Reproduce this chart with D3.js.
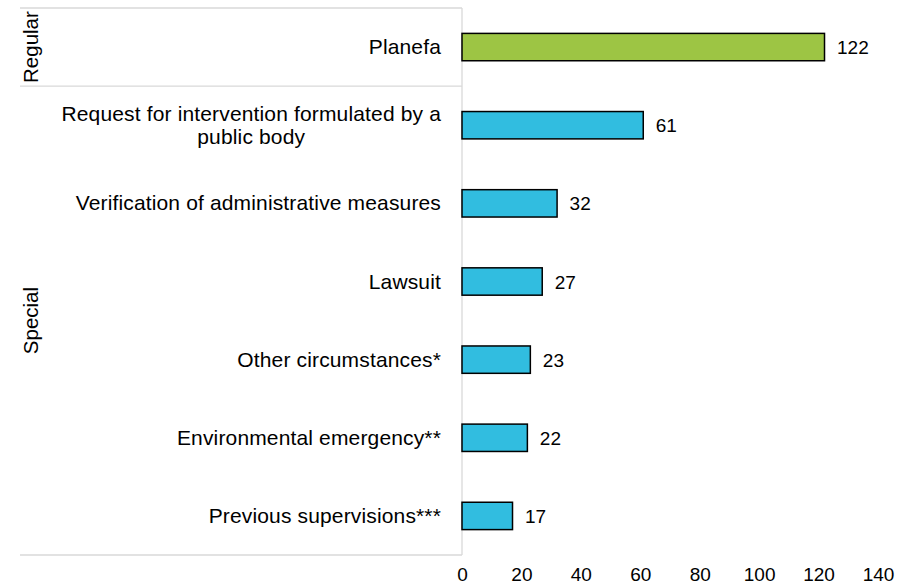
<!DOCTYPE html>
<html>
<head>
<meta charset="utf-8">
<script src="https://cdn.jsdelivr.net/npm/d3@7"></script>
<style>
  body { margin: 0; background: #fff; }
  text { font-family: "Liberation Sans", Arial, sans-serif; fill: #000; }
</style>
</head>
<body>
<svg id="svg" width="903" height="586"></svg>
<script>
let categories = [
  "Planefa",
  "Request for intervention formulated by a|public body",
  "Verification of administrative measures",
  "Lawsuit",
  "Other circumstances*",
  "Environmental emergency**",
  "Previous supervisions***"
];
let values = [122, 61, 32, 27, 23, 22, 17];
let groups = ["Regular", "Special", "Special", "Special", "Special", "Special", "Special"];
let groupNames = ["Regular", "Special"];
let ticks = [0, 20, 40, 60, 80, 100, 120, 140];

let svg = d3.select("#svg");

let x = d3.scaleLinear().domain([0, 140]).range([462, 878]);
let y = d3.scaleBand().domain(categories).range([8, 555]).paddingInner(0.65).paddingOuter(0.325);
let band = d3.scaleBand().domain(categories).range([8, 555]);

let color = d => d === "Regular" ? "#9dc544" : "#31bde0";

/* Frame lines */
let grid = svg.append("g").attr("stroke", "#d9d9d9").attr("stroke-width", 1.3);
grid.append("line").attr("x1", 20).attr("x2", 462).attr("y1", 8).attr("y2", 8);
grid.append("line").attr("x1", 20).attr("x2", 462).attr("y1", 555).attr("y2", 555);
grid.append("line").attr("x1", x(0)).attr("x2", x(0)).attr("y1", 8).attr("y2", 555);

// group separators
groupNames.forEach(g => {
  let idx = groups.indexOf(g);
  if (idx > 0) {
    let yy = band(categories[idx]);
    grid.append("line").attr("x1", 20).attr("x2", 462).attr("y1", yy).attr("y2", yy);
  }
});

/* Group labels */
groupNames.forEach(g => {
  let first = groups.indexOf(g);
  let last = groups.lastIndexOf(g);
  let mid = (band(categories[first]) + band(categories[last]) + band.bandwidth()) / 2;
  svg.append("text")
    .attr("transform", `translate(38,${mid}) rotate(-90)`)
    .attr("text-anchor", "middle")
    .attr("font-size", 20.5)
    .text(g);
});

/* Category labels */
categories.forEach(c => {
  let lines = c.split("|");
  let cy = y(c) + y.bandwidth() / 2;
  let t = svg.append("text")
    .attr("font-size", 21)
    .attr("letter-spacing", 0.15)
    .attr("text-anchor", "end");
  let first = t.append("tspan")
    .attr("x", 441)
    .attr("y", cy + 7 - (lines.length - 1) * 11.5)
    .text(lines[0]);
  if (lines.length > 1) {
    let w = first.node().getComputedTextLength();
    t.append("tspan")
      .attr("x", 441 - w / 2)
      .attr("y", cy + 7 + 11.5)
      .attr("text-anchor", "middle")
      .text(lines[1]);
  }
});

/* Bars */
svg.append("g").selectAll("rect")
  .data(categories)
  .join("rect")
  .attr("x", x(0))
  .attr("y", d => y(d))
  .attr("width", (d, i) => x(values[i]) - x(0))
  .attr("height", y.bandwidth())
  .attr("fill", (d, i) => color(groups[i]))
  .attr("stroke", "#000")
  .attr("stroke-width", 1.5);

/* Value labels */
svg.append("g").selectAll("text")
  .data(categories)
  .join("text")
  .attr("x", (d, i) => x(values[i]) + 12.5)
  .attr("y", d => y(d) + y.bandwidth() / 2 + 7)
  .attr("font-size", 19)
  .text((d, i) => values[i]);

/* X axis */
let axis = svg.append("g")
  .attr("transform", "translate(0,581)")
  .call(d3.axisBottom(x).tickValues(ticks).tickSize(0).tickPadding(0));
axis.select(".domain").remove();
axis.selectAll("text")
  .attr("font-size", 19)
  .attr("y", 0)
  .attr("dy", 0)
  .style("font-family", "'Liberation Sans', Arial, sans-serif");
</script>
</body>
</html>
